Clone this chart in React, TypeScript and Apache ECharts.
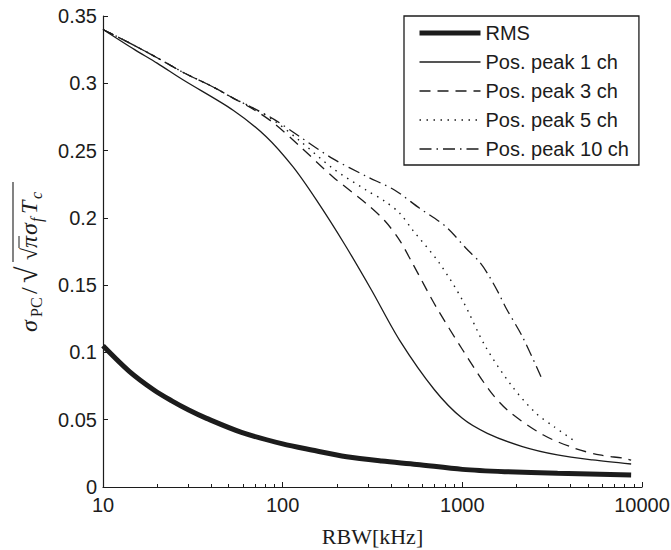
import React, { useEffect, useRef } from "react";
import * as echarts from "echarts";

const rmsX = [10, 14, 19.2, 24, 30, 37.7, 59, 100, 145, 227, 356, 557, 1000, 1720, 3390, 8700];
const rmsY = [0.105, 0.086, 0.0721, 0.0642, 0.0572, 0.051, 0.0406, 0.032, 0.0275, 0.0225, 0.0193, 0.0168, 0.0131, 0.0114, 0.0102, 0.0089];

const pk1X = [10, 15, 20, 28, 53, 81, 114, 154, 222, 312, 447, 701, 1000, 1377, 2160, 3380, 5300, 8700];
const pk1Y = [0.34, 0.325, 0.315, 0.3024, 0.28, 0.2603, 0.238, 0.2133, 0.18, 0.1464, 0.1092, 0.0721, 0.051, 0.0399, 0.03, 0.0238, 0.0201, 0.0171];

const pk3X = [10, 15, 20, 28, 40, 53, 70, 90, 124, 190, 291, 369, 447, 529, 714, 1005, 1413, 1804, 2825, 4240, 5810, 7950, 8700];
const pk3Y = [0.34, 0.328, 0.319, 0.308, 0.298, 0.289, 0.28, 0.27, 0.2535, 0.2306, 0.2108, 0.198, 0.1835, 0.166, 0.134, 0.1018, 0.072, 0.0565, 0.0386, 0.0287, 0.0238, 0.0213, 0.02];

const pk5X = [10, 15, 20, 28, 40, 53, 70, 90, 124, 190, 291, 369, 447, 529, 745, 1000, 1350, 1900, 2570, 3240, 4190];
const pk5Y = [0.34, 0.328, 0.319, 0.308, 0.298, 0.289, 0.281, 0.272, 0.2575, 0.2368, 0.2207, 0.2125, 0.2036, 0.191, 0.1664, 0.139, 0.104, 0.0745, 0.0548, 0.0448, 0.0344];

const pk10X = [10, 15, 20, 28, 40, 53, 70, 90, 124, 190, 291, 419, 576, 811, 1048, 1250, 1413, 1600, 1750, 2160, 2740];
const pk10Y = [0.34, 0.328, 0.319, 0.308, 0.298, 0.289, 0.281, 0.273, 0.2605, 0.244, 0.231, 0.2207, 0.2073, 0.1934, 0.1774, 0.167, 0.1565, 0.1435, 0.133, 0.1117, 0.082];

const seriesNames = ["RMS", "Pos. peak 1 ch", "Pos. peak 3 ch", "Pos. peak 5 ch", "Pos. peak 10 ch"];
const xMajorTicks = [10, 100, 1000, 10000];
const xMinorTicks = [20, 30, 40, 50, 60, 70, 80, 90, 200, 300, 400, 500, 600, 700, 800, 900, 2000, 3000, 4000, 5000, 6000, 7000, 8000, 9000];

const zip = (xs: number[], ys: number[]) => xs.map((x, i) => [x, ys[i]]);

const INK = "#1c1c1c";
const SANS = "'Liberation Sans', Arial, sans-serif";
const SERIF = "'Liberation Serif', 'Times New Roman', serif";

function titlePiece(x: number, text: string, size: number, italic: boolean, sub: boolean) {
  const baseline = sub ? 5 : 0;
  return {
    type: "text",
    x,
    y: baseline - 0.34 * size,
    style: {
      text,
      font: `${italic ? "italic " : ""}${size}px ${SERIF}`,
      fill: INK,
      align: "left",
      verticalAlign: "middle",
    },
  };
}

export default function App() {
  const ref = useRef<HTMLDivElement>(null);
  useEffect(() => {
    if (!ref.current) return;
    const chart = echarts.init(ref.current, null, { renderer: "svg" });
    const styles = [
      { width: 5, type: "solid" as any },
      { width: 1.3, type: "solid" as any },
      { width: 1.3, type: [11, 7] as any },
      { width: 1.4, type: [1.5, 5.5] as any },
      { width: 1.3, type: [12, 5, 1.5, 5] as any },
    ];
    const datas = [zip(rmsX, rmsY), zip(pk1X, pk1Y), zip(pk3X, pk3Y), zip(pk5X, pk5Y), zip(pk10X, pk10Y)];
    chart.setOption({
      animation: false,
      backgroundColor: "#ffffff",
      grid: { left: 103, right: 29, top: 16, bottom: 63, containLabel: false, outerBoundsMode: "none" } as any,
      legend: {
        orient: "vertical",
        left: 404,
        top: 16,
        padding: [7, 10, 6, 13],
        itemWidth: 61,
        itemHeight: 14,
        itemGap: 9,
        backgroundColor: "#ffffff",
        borderColor: INK,
        borderWidth: 1.3,
        borderRadius: 0,
        itemStyle: { opacity: 0 },
        data: seriesNames.map((name, i) => ({
          name,
          itemStyle: { opacity: 0 },
          lineStyle: { width: styles[i].width, type: styles[i].type, color: INK },
        })),
        textStyle: { fontFamily: SANS, fontSize: 20, color: INK, lineHeight: 20 },
      },
      xAxis: [
        {
          type: "log",
          logBase: 10,
          min: 10,
          max: 10000,
          name: "RBW[kHz]",
          nameLocation: "middle",
          nameGap: 38,
          nameTextStyle: { fontFamily: SERIF, fontSize: 22, color: INK, verticalAlign: "top" },
          axisLine: { show: true, lineStyle: { color: INK, width: 1.2 } },
          axisTick: { show: true, inside: true, length: 5, lineStyle: { color: INK, width: 1 }, customValues: xMajorTicks },
          axisLabel: {
            fontFamily: SANS,
            fontSize: 20,
            color: INK,
            margin: 8,
            customValues: xMajorTicks,
            formatter: (v: number) => String(Math.round(v)),
          },
          splitLine: { show: false },
          minorTick: { show: false },
        },
        {
          type: "log",
          logBase: 10,
          min: 10,
          max: 10000,
          position: "bottom",
          axisLine: { show: false },
          axisTick: { show: true, inside: true, length: 3, lineStyle: { color: INK, width: 1 }, customValues: xMinorTicks },
          axisLabel: { show: false },
          splitLine: { show: false },
        },
      ],
      yAxis: {
        type: "value",
        min: 0,
        max: 0.35,
        interval: 0.05,
        axisLine: { show: true, lineStyle: { color: INK, width: 1.2 } },
        axisTick: { show: true, inside: true, length: 5, lineStyle: { color: INK, width: 1 } },
        axisLabel: { fontFamily: SANS, fontSize: 20, color: INK, margin: 6 },
        splitLine: { show: false },
      },
      series: seriesNames.map((name, i) => ({
        name,
        type: "line",
        xAxisIndex: 0,
        data: datas[i],
        showSymbol: false,
        symbol: "none",
        smooth: 0.3,
        lineStyle: { color: INK, width: styles[i].width, type: styles[i].type, cap: "butt" },
        itemStyle: { color: INK },
        z: 2 + i,
      })),
      graphic: [
        {
          type: "group",
          x: 37,
          y: 332,
          rotation: Math.PI / 2,
          children: [
            titlePiece(0, "σ", 24, true, false),
            titlePiece(15, "PC", 16, false, true),
            titlePiece(38, "/", 24, false, false),
            titlePiece(49, "√", 30, false, false),
            { type: "line", shape: { x1: 70, y1: -24, x2: 150, y2: -24 }, style: { stroke: INK, lineWidth: 1.1 } },
            titlePiece(72, "√", 22, false, false),
            { type: "line", shape: { x1: 84, y1: -18, x2: 96, y2: -18 }, style: { stroke: INK, lineWidth: 1 } },
            titlePiece(84, "π", 24, true, false),
            titlePiece(97, "σ", 24, true, false),
            titlePiece(110, "f", 16, true, true),
            titlePiece(118, "T", 24, true, false),
            titlePiece(133, "c", 16, true, true),
          ],
        },
      ],
    } as any);
    return () => chart.dispose();
  }, []);
  return (
    <div
      ref={ref}
      style={{ position: "fixed", left: 0, top: 0, width: 671, height: 550, background: "#fff" }}
    />
  );
}
